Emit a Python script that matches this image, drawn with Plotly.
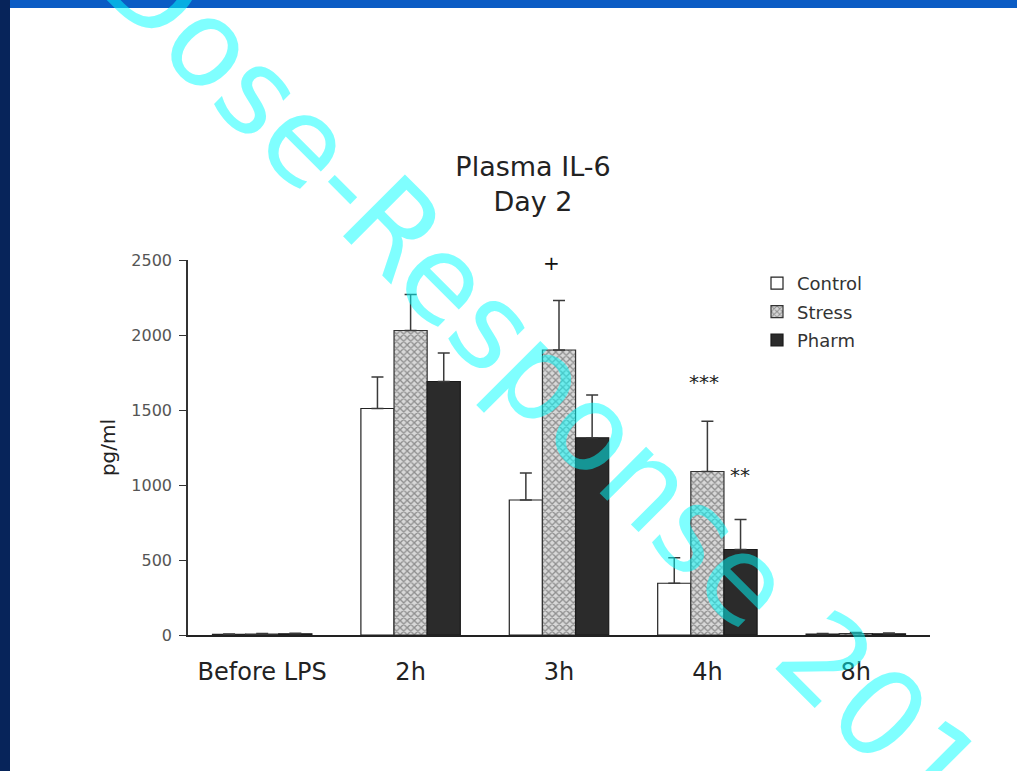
import plotly.graph_objects as go

categories = ["Before LPS", "2h", "3h", "4h", "8h"]
control = [4, 1510, 900, 345, 6]
control_err = [3, 210, 180, 170, 4]
stress = [6, 2030, 1900, 1090, 10]
stress_err = [4, 240, 330, 335, 6]
pharm = [8, 1690, 1315, 570, 8]
pharm_err = [4, 190, 285, 200, 5]
y_ticks = [0, 500, 1000, 1500, 2000, 2500]

W, H = 1017, 771
ML, MR, MT, MB = 188, 87, 260, 136
PW, PH = W - ML - MR, H - MT - MB


def px(x):
    return (x - ML) / PW


def py(y):
    return (H - MB - y) / PH


FONT = "DejaVu Sans, Arial"
err_style = dict(type="data", symmetric=False, color="#3a3a3a", thickness=1.5, width=6)

fig = go.Figure()
fig.add_trace(go.Bar(
    x=categories, y=control, name="Control", legendgroup="a",
    marker=dict(color="white", line=dict(color="#222", width=1.2)),
    error_y=dict(array=control_err, arrayminus=[0] * 5, **err_style),
))
fig.add_trace(go.Bar(
    x=categories, y=stress, name="Stress", legendgroup="b",
    marker=dict(color="#d0d0d0", line=dict(color="#333", width=1.2),
                pattern=dict(shape="x", fgcolor="#444", bgcolor="#d8d8d8", size=5, solidity=0.45)),
    error_y=dict(array=stress_err, arrayminus=[0] * 5, **err_style),
))
fig.add_trace(go.Bar(
    x=categories, y=pharm, name="Pharm", legendgroup="c",
    marker=dict(color="#2b2b2b", line=dict(color="#1a1a1a", width=1.2)),
    error_y=dict(array=pharm_err, arrayminus=[0] * 5, **err_style),
))

# significance markers
fig.add_annotation(x=categories[2], y=2480, text="+", showarrow=False,
                   font=dict(size=20, color="#111", family=FONT), xshift=-8)
fig.add_annotation(x=categories[3], y=1690, text="***", showarrow=False,
                   font=dict(size=20, color="#222", family=FONT), xshift=-3)
fig.add_annotation(x=categories[3], y=1070, text="**", showarrow=False,
                   font=dict(size=20, color="#222", family=FONT), xshift=33)

# slide frame
fig.add_shape(type="rect", xref="paper", yref="paper", x0=px(0), x1=px(W), y0=py(0), y1=py(8),
              fillcolor="#0b5cc4", line=dict(width=0), layer="above")
fig.add_shape(type="rect", xref="paper", yref="paper", x0=px(0), x1=px(10), y0=py(0), y1=py(H),
              fillcolor="#07245a", line=dict(width=0), layer="above")

# watermark
fig.add_annotation(xref="paper", yref="paper", x=px(567), y=py(401), xanchor="center", yanchor="middle",
                   text="Dose-Response 2012", showarrow=False, textangle=45,
                   font=dict(size=120, color="rgba(0,255,255,0.5)", family="DejaVu Sans"))

fig.update_layout(
    width=W, height=H,
    margin=dict(l=ML, r=MR, t=MT, b=MB, pad=0),
    paper_bgcolor="white", plot_bgcolor="white",
    barmode="group", bargap=0.33, bargroupgap=0,
    font=dict(family=FONT, color="#222"),
    title=dict(text="Plasma IL-6<br>Day 2", x=533 / W, xanchor="center",
               y=1 - 176 / H, yanchor="middle", font=dict(size=27, color="#222", family=FONT)),
    showlegend=True,
    legend=dict(x=px(757), y=py(265), xanchor="left", yanchor="top", bgcolor="rgba(0,0,0,0)",
                font=dict(size=18, color="#333", family=FONT), itemwidth=30, tracegroupgap=2,
                traceorder="grouped"),
    xaxis=dict(type="category", range=[-0.5, 4.5], showline=True, linecolor="#222", linewidth=2,
               ticks="", showgrid=False, zeroline=False,
               tickfont=dict(size=24, color="#222", family=FONT), ticklabelstandoff=14),
    yaxis=dict(range=[0, 2500], tickvals=y_ticks, showline=True, linecolor="#333", linewidth=1.5,
               ticks="outside", ticklen=7, tickcolor="#333", showgrid=False, zeroline=False,
               tickfont=dict(size=16, color="#555", family=FONT), ticklabelstandoff=4,
               title=dict(text="pg/ml", font=dict(size=20, color="#222", family=FONT), standoff=10)),
)

fig.write_html("out.html")
